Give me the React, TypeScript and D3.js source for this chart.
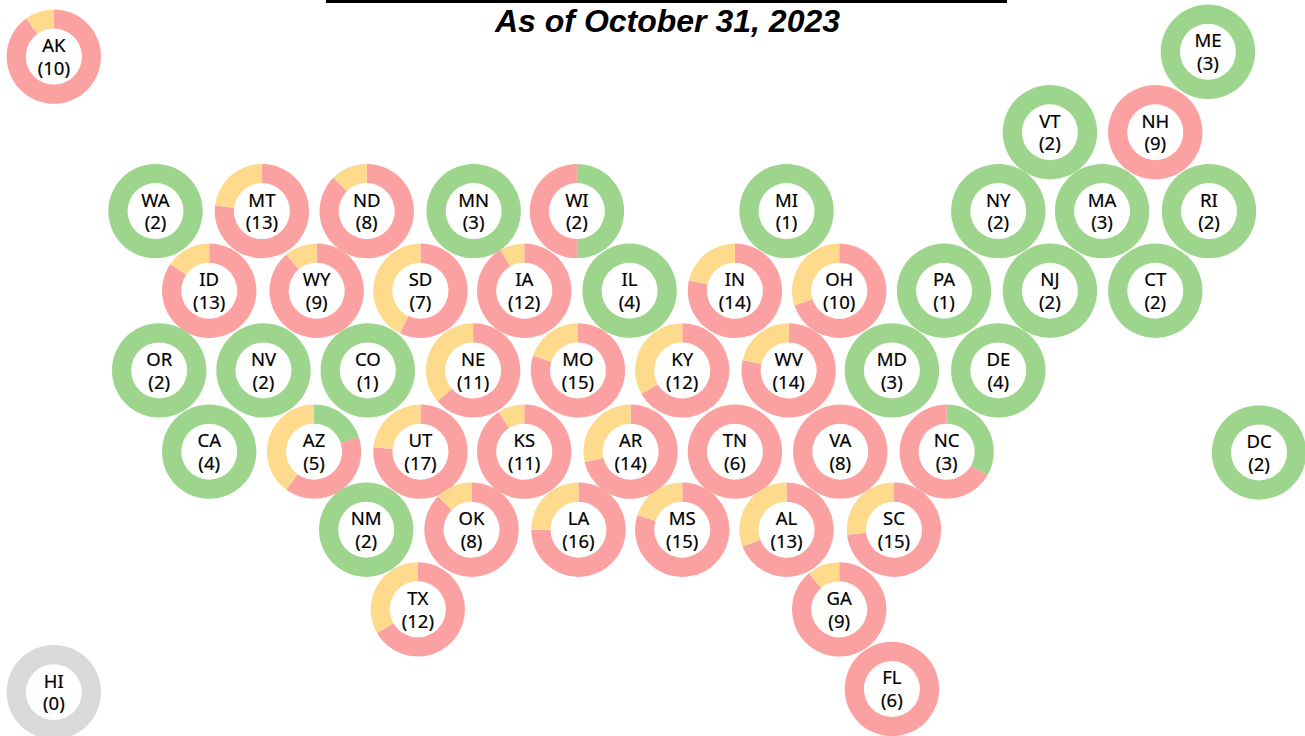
import React from "react";
import * as d3 from "d3";

const WIDTH = 1305;
const HEIGHT = 736;

const TITLE = "As of October 31, 2023";

// tile map: one entry per state, col is in half tiles, row in whole tiles
const STATES = [
  "AK", "ME", "VT", "NH", "WA", "MT", "ND", "MN", "WI", "MI", "NY", "MA", "RI",
  "ID", "WY", "SD", "IA", "IL", "IN", "OH", "PA", "NJ", "CT",
  "OR", "NV", "CO", "NE", "MO", "KY", "WV", "MD", "DE",
  "CA", "AZ", "UT", "KS", "AR", "TN", "VA", "NC", "DC",
  "NM", "OK", "LA", "MS", "AL", "SC", "TX", "GA", "FL", "HI",
];
const COLS = [
  -1.93, 19.98, 16.98, 18.98, 0, 2.02, 4.01, 6.04, 8, 11.98, 16, 17.97, 20,
  1.02, 3.06, 5.03, 7, 9, 11, 12.98, 14.97, 16.98, 18.98,
  0.07, 2.05, 4.03, 6.03, 8.02, 10, 12.02, 13.98, 16,
  1.02, 3.01, 5.03, 7, 9.02, 11, 13, 15.02, 20.95,
  4, 6, 8.03, 10, 11.98, 14.02, 4.98, 12.98, 13.98, -1.93,
];
const ROWS = [
  0.06, 0, 1.01, 1.01, 2, 2, 2, 2, 2, 2, 2, 2, 2,
  3, 3, 3, 3, 3, 3, 3, 3, 3, 3,
  4, 4, 4, 4, 4, 4, 4, 4, 4,
  5.02, 5.02, 5.02, 5.02, 5.02, 5.02, 5.02, 5.02, 5.03,
  6, 6, 6, 6, 6, 6, 7, 7, 8, 8.04,
];

// submissions per status, the ring runs green, red, yellow clockwise from the top
const GREEN = [
  0, 3, 2, 0, 2, 0, 0, 3, 1, 1, 2, 3, 2,
  0, 0, 0, 0, 4, 0, 0, 1, 2, 2,
  2, 2, 1, 0, 0, 0, 0, 3, 4,
  4, 1, 0, 0, 0, 0, 0, 1, 2,
  2, 0, 0, 0, 0, 0, 0, 0, 0, 0,
];
const RED = [
  9, 0, 0, 9, 0, 10, 7, 0, 1, 0, 0, 0, 0,
  11, 8, 4, 11, 0, 11, 7, 0, 0, 0,
  0, 0, 0, 7, 12, 8, 11, 0, 0,
  0, 2, 13, 10, 10, 6, 8, 2, 0,
  0, 7, 12, 12, 9, 11, 8, 8, 6, 0,
];
const YELLOW = [
  1, 0, 0, 0, 0, 3, 1, 0, 0, 0, 0, 0, 0,
  2, 1, 3, 1, 0, 3, 3, 0, 0, 0,
  0, 0, 0, 4, 3, 4, 3, 0, 0,
  0, 2, 4, 1, 4, 0, 0, 0, 0,
  0, 1, 4, 3, 4, 4, 4, 1, 0, 0,
];

const STATUS_COLORS = ["#9dd58d", "#fca1a1", "#fedb8c"];
const EMPTY_COLOR = "#d9d9d9";

const x = d3.scaleLinear().domain([0, 20]).range([155.5, 1209]);
const y = d3.scaleLinear().domain([0, 8]).range([51.8, 689]);

const pie = d3.pie<number>().sort(null).value((d) => d);
const arc = d3.arc<d3.PieArcDatum<number>>().innerRadius(28).outerRadius(47.2);

function StateRing({ index }: { index: number }) {
  const counts = [GREEN[index], RED[index], YELLOW[index]];
  const total = d3.sum(counts);
  // HI has nothing to split, so it gets a single grey ring
  const slices = pie(total > 0 ? counts : [1]);

  return (
    <g transform={`translate(${x(COLS[index])},${y(ROWS[index])})`}>
      {slices.map((s, i) =>
        s.value > 0 ? (
          <path key={i} d={arc(s) || ""} fill={total > 0 ? STATUS_COLORS[i] : EMPTY_COLOR} />
        ) : null
      )}
      <text
        textAnchor="middle"
        fontFamily="'Noto Sans', sans-serif"
        fontSize={18.5}
        fill="#000"
        stroke="#000"
        strokeWidth={0.2}
      >
        <tspan x={0} y={-4.6}>{STATES[index]}</tspan>
        <tspan x={0} y={18.2}>({total})</tspan>
      </text>
    </g>
  );
}

export default function App() {
  return (
    <svg
      width={WIDTH}
      height={HEIGHT}
      style={{ position: "absolute", left: 0, top: 0, background: "#fff" }}
    >
      <line x1={326} x2={1007} y1={1.5} y2={1.5} stroke="#000" strokeWidth={3} />
      <text
        x={667.5}
        y={32}
        textAnchor="middle"
        fontFamily="'Liberation Sans', sans-serif"
        fontSize={32}
        fontWeight={700}
        fontStyle="italic"
        fill="#000"
      >
        {TITLE}
      </text>
      {STATES.map((state, i) => (
        <StateRing key={state} index={i} />
      ))}
    </svg>
  );
}
